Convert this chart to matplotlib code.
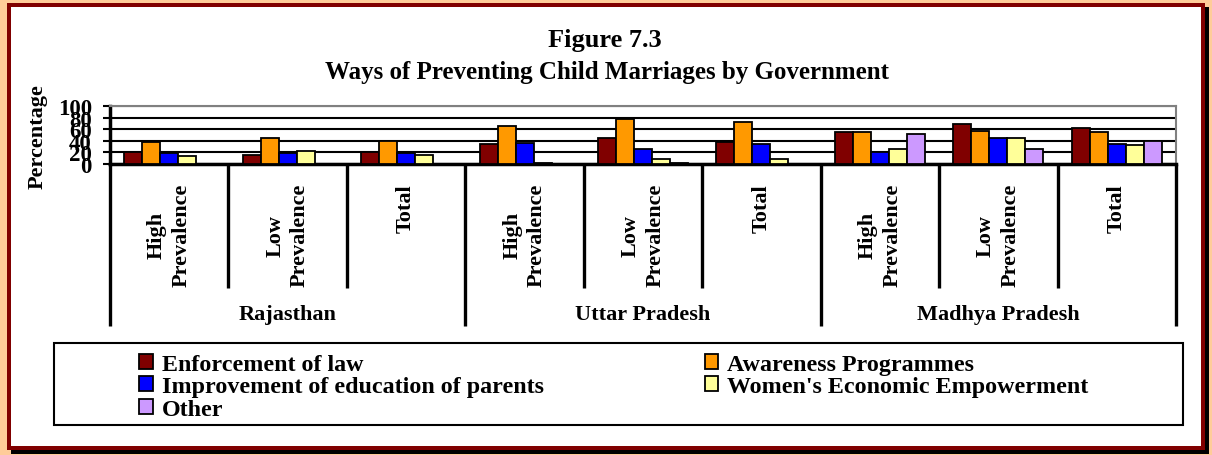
import matplotlib
matplotlib.use("Agg")
import matplotlib.pyplot as plt
from matplotlib.patches import Rectangle
from matplotlib.lines import Line2D

# ---------------- data ----------------
states = ["Rajasthan", "Uttar Pradesh", "Madhya Pradesh"]
subcats = ["High\nPrevalence", "Low\nPrevalence", "Total"]
series_names = ["Enforcement of law", "Awareness Programmes",
                "Improvement of education of parents",
                "Women's Economic Empowerment", "Other"]
enforcement = [20, 16, 20, 34, 44, 38, 55, 69, 62]
awareness = [38, 44, 40, 65, 78, 72, 55, 57, 55]
improvement = [19, 19, 19, 37, 26, 34, 20, 44, 34]
womens = [13, 23, 16, 2, 9, 9, 26, 44, 33]
other = [0, 0, 0, 0, 1, 0, 51, 26, 40]
yticks = [0, 20, 40, 60, 80, 100]

colors = ["#800000", "#FF9900", "#0000FF", "#FFFF99", "#CC99FF"]

W, H = 1212, 456
fig = plt.figure(figsize=(W / 100, H / 100), dpi=100)
fig.patch.set_facecolor("#FFCC99")
plt.rcParams['font.family'] = ['Liberation Serif', 'DejaVu Serif']

def fx(x):
    return x / W

def fy(y):
    return 1 - y / H

def frect(x0, y0, x1, y1, **kw):
    r = Rectangle((fx(x0), fy(y1)), fx(x1) - fx(x0), fy(y0) - fy(y1),
                  transform=fig.transFigure, **kw)
    fig.patches.append(r)
    return r

# frame: shadow, red border, white panel
frect(11, 8, 1209, 455, facecolor="black", edgecolor="none", zorder=-3)
frect(7, 4, 1205, 451, facecolor="#800000", edgecolor="none", zorder=-2)
frect(11, 8, 1201, 447, facecolor="white", edgecolor="none", zorder=-1)

# axes
ax_l, ax_r, ax_t, ax_b = 110, 1176, 107, 165
ax = fig.add_axes([fx(ax_l), fy(ax_b), fx(ax_r) - fx(ax_l), fy(ax_t) - fy(ax_b)])
ax.set_facecolor("white")

all_series = [enforcement, awareness, improvement, womens, other]
n = len(enforcement)
xs = list(range(n))
bw = 0.152
handles = []
for i, (vals, name, c) in enumerate(zip(all_series, series_names, colors)):
    h = ax.bar([x + (i - 2) * bw for x in xs], vals, width=bw, color=c,
               edgecolor="black", linewidth=1.3, label=name, zorder=3)
    handles.append(h)

ax.set_xlim(-0.5, n - 0.5)
ax.set_ylim(0, 100)
ax.set_yticks(yticks)
ax.set_yticklabels([str(v) for v in yticks], fontsize=16.5, fontweight="bold")
ax.tick_params(axis="y", direction="out", length=5, width=1.5, pad=8)
ax.set_xticks([])
ax.yaxis.grid(True, color="black", linewidth=1.5, zorder=0)
ax.set_axisbelow(True)
for s in ["top", "right"]:
    ax.spines[s].set_color("#808080")
    ax.spines[s].set_linewidth(1.5)
ax.spines["left"].set_linewidth(2.5)
ax.spines["bottom"].set_linewidth(2.5)

# category separators and labels
def line_px(x, y0, y1, lw):
    fig.add_artist(Line2D([fx(x), fx(x)], [fy(y0), fy(y1)], transform=fig.transFigure,
                          color="black", linewidth=lw, solid_capstyle="butt"))

cat_w = (ax_r - ax_l) / n
for k in range(n + 1):
    xp = ax_l + k * cat_w
    if k % 3 == 0:
        line_px(xp, ax_b, 327, 2.4)
    else:
        line_px(xp, ax_b, 289, 2.4)

labels = subcats * len(states)
for k, lab in enumerate(labels):
    xc = ax_l + (k + 0.5) * cat_w
    fig.text(fx(xc), fy(184), lab, rotation=90, ha="center", va="top",
             multialignment="center", fontsize=16, fontweight="bold",
             linespacing=1.3)

for g, st in enumerate(states):
    xc = ax_l + (g * 3 + 1.5) * cat_w
    fig.text(fx(xc), fy(315), st, ha="center", va="center",
             fontsize=16, fontweight="bold")

# y label
fig.text(fx(38), fy(137), "Percentage", rotation=90, ha="center", va="center",
         fontsize=16, fontweight="bold")

# title
fig.text(fx(605), fy(40), "Figure 7.3", ha="center", va="center",
         fontsize=19, fontweight="bold")
fig.text(fx(607), fy(73), "Ways of Preventing Child Marriages by Government",
         ha="center", va="center", fontsize=18, fontweight="bold")

# legend box
frect(54, 344, 1183, 426, facecolor="white", edgecolor="black", linewidth=1.5, zorder=1)
leg_kw = dict(loc="upper left", frameon=False, prop={"weight": "bold", "size": 17.3},
              handlelength=0.58, handleheight=0.58, handletextpad=0.37,
              labelspacing=0.06, borderpad=0.0, borderaxespad=0.0)
leg1 = fig.legend([handles[0], handles[2], handles[4]],
                  [series_names[0], series_names[2], series_names[4]],
                  bbox_to_anchor=(fx(139), fy(355)), **leg_kw)
leg2 = fig.legend([handles[1], handles[3]],
                  [series_names[1], series_names[3]],
                  bbox_to_anchor=(fx(704.5), fy(355)), **leg_kw)
leg1.set_zorder(5)
leg2.set_zorder(5)

fig.savefig("out.png", dpi=100, facecolor=fig.get_facecolor())
